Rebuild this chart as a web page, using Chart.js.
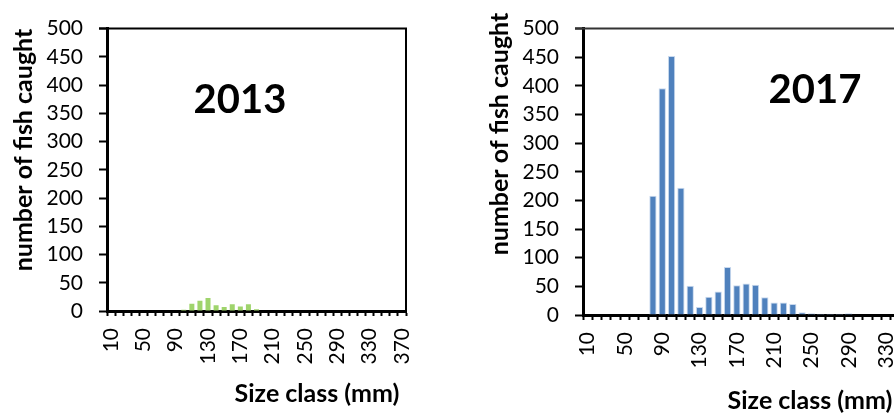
<!DOCTYPE html>
<html>
<head>
<meta charset="utf-8">
<script src="https://cdn.jsdelivr.net/npm/chart.js@4.4.1/dist/chart.umd.min.js"></script>
<style>
  html, body { margin: 0; padding: 0; background: #fff; width: 894px; height: 414px; overflow: hidden; }
  .panel { position: absolute; top: 0; }
  #p2013 { left: 0; }
  #p2017 { left: 480px; }
</style>
</head>
<body>
<div class="panel" id="p2013"><canvas id="c2013" width="420" height="414"></canvas></div>
<div class="panel" id="p2017"><canvas id="c2017" width="470" height="414"></canvas></div>
<script>
// Size classes (mm), one bar per 10 mm class
const sizeClasses = [10, 20, 30, 40, 50, 60, 70, 80, 90, 100, 110, 120, 130, 140, 150, 160, 170, 180, 190,
  200, 210, 220, 230, 240, 250, 260, 270, 280, 290, 300, 310, 320, 330, 340, 350, 360, 370];

// Number of fish caught per size class
const fish2013 = [0, 0, 0, 0, 0, 0, 0, 0, 0, 2, 13, 18, 23, 10, 7, 12, 8, 12, 3,
  0, 1, 1, 0, 0, 0, 0, 0, 0, 0, 0, 0, 0, 0, 0, 0, 0, 0];
const fish2017 = [0, 0, 0, 0, 0, 0, 1, 208, 396, 452, 222, 51, 14, 32, 41, 84, 52, 55, 53,
  31, 22, 22, 19, 5, 3, 2, 2, 2, 3, 0, 0, 0, 0, 0, 0, 0, 0];

// Y axis ticks
const countTicks = [0, 50, 100, 150, 200, 250, 300, 350, 400, 450, 500];

const yTitle = 'number of fish caught';
const xTitle = 'Size class (mm)';

Chart.defaults.font.family = 'Lato, "Open Sans", sans-serif';
Chart.defaults.color = '#000';

// Plot frame, year caption and axis titles
const captions = {
  id: 'captions',
  afterDraw(chart, args, o) {
    const { ctx, chartArea: a } = chart;
    ctx.save();
    ctx.strokeStyle = o.frameColor;
    ctx.lineWidth = 2;
    ctx.beginPath();
    ctx.moveTo(a.left - 8, a.top);
    ctx.lineTo(a.right, a.top);
    ctx.lineTo(a.right, a.bottom);
    ctx.stroke();

    ctx.fillStyle = '#000';
    ctx.textAlign = 'center';
    ctx.textBaseline = 'middle';
    ctx.font = 'bold 40px Lato, sans-serif';
    ctx.fillText(o.year, o.yearX, o.yearY);

    ctx.font = 'bold 25px Lato, sans-serif';
    ctx.fillText(xTitle, o.xTitleX, o.xTitleY);

    ctx.translate(o.yTitleX, o.yTitleY);
    ctx.rotate(-Math.PI / 2);
    ctx.font = 'bold 25px Lato, sans-serif';
    ctx.fillText(yTitle, 0, 0);
    ctx.restore();
  }
};

function makeChart(id, year, values, color, border, barPct, geom) {
  return new Chart(document.getElementById(id), {
    type: 'bar',
    data: {
      labels: sizeClasses,
      datasets: [{
        data: values,
        backgroundColor: color,
        borderColor: border,
        borderWidth: border ? 1 : 0,
        barPercentage: barPct,
        categoryPercentage: 1
      }]
    },
    options: {
      responsive: false,
      animation: false,
      events: [],
      layout: { padding: { left: 0, top: 23, right: geom.padRight, bottom: 0 } },
      plugins: {
        legend: { display: false },
        tooltip: { enabled: false },
        captions: {
          year: year,
          frameColor: geom.frameColor,
          yearX: geom.yearX, yearY: geom.yearY,
          xTitleX: geom.xTitleX, xTitleY: geom.xTitleY,
          yTitleX: geom.yTitleX, yTitleY: geom.yTitleY
        }
      },
      scales: {
        x: {
          afterFit(s) {
            s.height = geom.xHeight;
            s.paddingLeft = 0;
            s.paddingRight = 0;
          },
          grid: {
            offset: true,
            drawOnChartArea: false,
            drawTicks: true,
            tickLength: 5,
            tickColor: '#000',
            tickWidth: 2
          },
          border: { display: true, color: '#000', width: 3 },
          ticks: {
            autoSkip: false,
            maxRotation: 90,
            minRotation: 90,
            padding: 12,
            font: { size: 21 },
            callback(v, i) { return i % 4 === 0 ? String(sizeClasses[i]) : ''; }
          }
        },
        y: {
          min: 0,
          max: 500,
          afterFit(s) { s.width = geom.yWidth; },
          afterBuildTicks(s) { s.ticks = countTicks.map(v => ({ value: v })); },
          grid: {
            drawOnChartArea: false,
            drawTicks: true,
            tickLength: 8,
            tickColor: '#000',
            tickWidth: 2
          },
          border: { display: true, color: '#000', width: 3 },
          ticks: { padding: 16, font: { size: 21 } }
        }
      }
    },
    plugins: [captions]
  });
}

makeChart('c2013', '2013', fish2013, '#9fd46c', null, 0.62, {
  padRight: 14, xHeight: 103, yWidth: 107, frameColor: '#000',
  yearX: 240, yearY: 100, xTitleX: 317, xTitleY: 394, yTitleX: 24, yTitleY: 150
});

makeChart('c2017', '2017', fish2017, '#4f81bd', '#c9d9ee', 0.78, {
  padRight: 22, xHeight: 99, yWidth: 103, frameColor: '#333',
  yearX: 335, yearY: 90, xTitleX: 330, xTitleY: 401, yTitleX: 20, yTitleY: 134
});
</script>
</body>
</html>
